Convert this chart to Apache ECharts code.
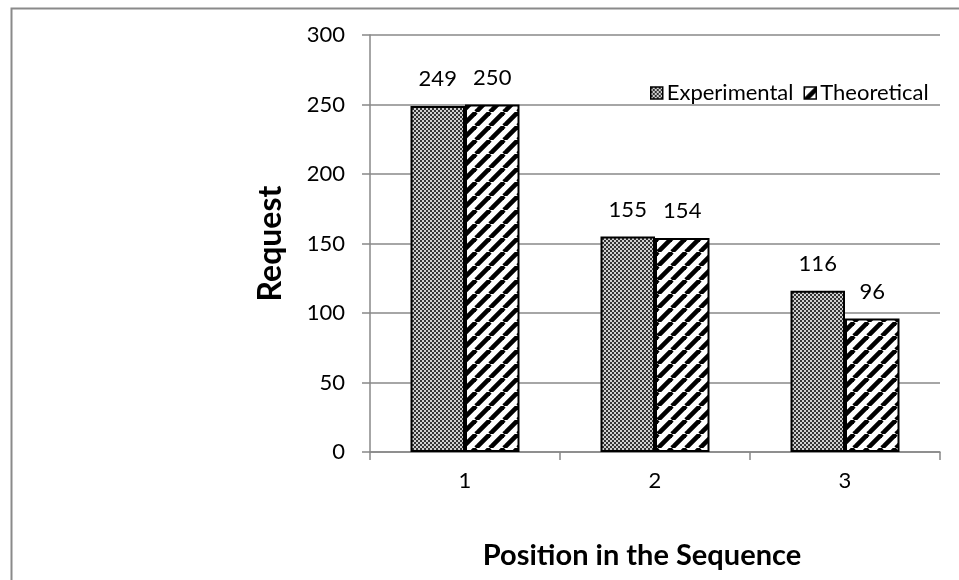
<!DOCTYPE html>
<html>
<head>
<meta charset="utf-8">
<script src="https://cdn.jsdelivr.net/npm/echarts@6/dist/echarts.min.js"></script>
<style>html,body{margin:0;padding:0;background:#fff;}#c{width:959px;height:580px;}</style>
</head>
<body>
<div id="c"></div>
<script>
const categories = ['1', '2', '3'];
const experimental = [249, 155, 116];
const theoretical = [250, 154, 96];
const seriesNames = ['Experimental', 'Theoretical'];
const yTicks = { min: 0, max: 300, interval: 50 };

function checkerPattern() {
  const c = document.createElement('canvas');
  c.width = 4; c.height = 4;
  const g = c.getContext('2d');
  g.fillStyle = '#d0d0d0'; g.fillRect(0, 0, 4, 4);
  g.fillStyle = '#333';
  g.fillRect(0, 0, 2, 2); g.fillRect(2, 2, 2, 2);
  return { image: c, repeat: 'repeat' };
}
function stripePattern() {
  const s = 14;
  const c = document.createElement('canvas');
  c.width = s; c.height = s;
  const g = c.getContext('2d');
  g.fillStyle = '#fff'; g.fillRect(0, 0, s, s);
  g.strokeStyle = '#000'; g.lineWidth = 4.6;
  for (const o of [-s, 0, s]) {
    g.beginPath(); g.moveTo(o, s); g.lineTo(o + s, 0); g.stroke();
  }
  return { image: c, repeat: 'repeat' };
}

const font = 'Lato';
const chart = echarts.init(document.getElementById('c'), null, { renderer: 'canvas' });
const labelCfg = { show: true, position: 'top', distance: 16, color: '#000', fontSize: 22, fontFamily: font };
chart.setOption({
  animation: false,
  backgroundColor: '#fff',
  textStyle: { fontFamily: font },
  graphic: [{
    type: 'rect', left: 9, top: 6, silent: true,
    shape: { x: 0, y: 0, width: 1100, height: 700 },
    style: { fill: 'none', stroke: '#8a8a8a', lineWidth: 2 }
  }],
  grid: { left: 370, right: 19, top: 35, bottom: 128, containLabel: false },
  legend: {
    left: 645, top: 77, itemWidth: 12, itemHeight: 12, itemGap: 10,
    textStyle: { fontSize: 22, color: '#000', fontFamily: font, padding: [0, 0, 0, -1] },
    data: seriesNames.map(n => ({ name: n, icon: 'rect', itemStyle: { borderColor: '#000', borderWidth: 1.5 } }))
  },
  xAxis: {
    type: 'category', data: categories,
    name: 'Position in the Sequence', nameLocation: 'middle', nameGap: 89,
    nameTextStyle: { fontSize: 29, fontWeight: 'bold', color: '#000', fontFamily: font, padding: [0, 26, 0, 0] },
    axisLine: { lineStyle: { color: '#888', width: 1.5 } },
    axisTick: { show: true, length: 8, alignWithLabel: false, lineStyle: { color: '#888', width: 1.5 } },
    axisLabel: { fontSize: 22, color: '#000', margin: 18, fontFamily: font },
    splitLine: { show: false }
  },
  yAxis: {
    type: 'value', min: yTicks.min, max: yTicks.max, interval: yTicks.interval,
    name: 'Request', nameLocation: 'middle', nameGap: 83,
    nameTextStyle: { fontSize: 32, fontWeight: 'bold', color: '#000', fontFamily: font },
    axisLine: { show: true, lineStyle: { color: '#888', width: 1.5 } },
    axisTick: { show: true, length: 8, lineStyle: { color: '#888', width: 1.5 } },
    axisLabel: { fontSize: 22, color: '#000', margin: 25, fontFamily: font },
    splitLine: { show: true, lineStyle: { color: '#888', width: 1.5 } }
  },
  series: [
    {
      name: seriesNames[0], type: 'bar', data: experimental, barWidth: 54.5, barGap: '0%',
      itemStyle: { color: checkerPattern(), borderColor: '#000', borderWidth: 2 },
      label: labelCfg
    },
    {
      name: seriesNames[1], type: 'bar', data: theoretical, barWidth: 54.5,
      itemStyle: { color: stripePattern(), borderColor: '#000', borderWidth: 2 },
      label: labelCfg
    }
  ]
});
</script>
</body>
</html>
